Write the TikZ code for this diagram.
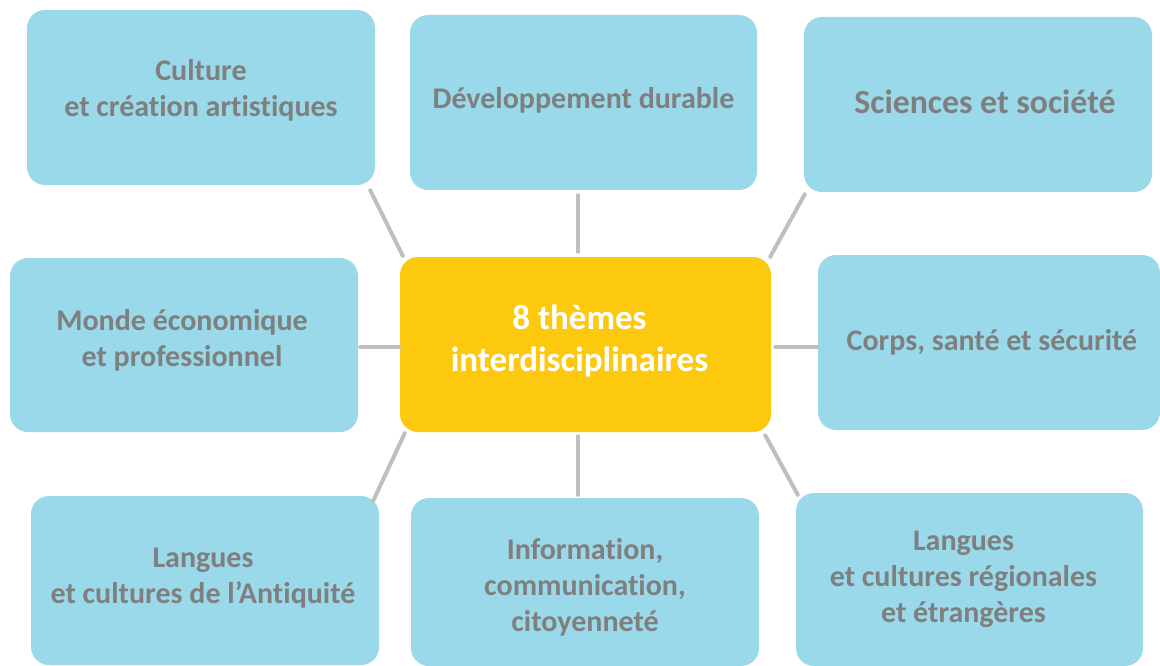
\documentclass[tikz,border=0pt]{standalone}
\usepackage{fontspec}
\setmainfont{Carlito}[Ligatures=NoCommon]
\definecolor{boxblue}{HTML}{99D9EA}
\definecolor{coreyellow}{HTML}{FDC90F}
\definecolor{txtgray}{HTML}{7F7F7F}
\definecolor{linegray}{HTML}{BFBFBF}
\begin{document}
\begin{tikzpicture}[x=1pt,y=-1pt,
  box/.style={fill=boxblue, draw=none, rounded corners=18pt, minimum width=348pt, minimum height=175pt, inner sep=0pt},
  core/.style={fill=coreyellow, draw=none, rounded corners=18pt, minimum width=371pt, minimum height=175pt, inner sep=0pt},
  txt/.style={text=txtgray, font=\bfseries\fontsize{30}{36}\selectfont, align=center, inner sep=0pt},
  bigtxt/.style={text=txtgray, font=\bfseries\fontsize{33.8}{40}\selectfont, align=center, inner sep=0pt},
  wtxt/.style={text=white, font=\bfseries\fontsize{35}{42}\selectfont, align=center, inner sep=0pt},
  conn/.style={draw=linegray, line width=4pt, line cap=round}]
\useasboundingbox (0,0) rectangle (1160,666);
\node[box] (cult) at (201,97.5) {};
\node[txt, yshift=7pt] at (cult.center) {Culture\\et création artistiques};
\node[box, minimum width=347pt] (dev) at (583.5,102.5) {};
\node[txt, yshift=2pt] at (dev.center) {Développement durable};
\node[box] (sci) at (978,104.5) {};
\node[bigtxt, yshift=3pt, xshift=7pt] at (sci.center) {Sciences et société};
\node[box, minimum height=174pt] (monde) at (184,345) {};
\node[txt, yshift=5pt, xshift=-2pt] at (monde.center) {Monde économique\\et professionnel};
\node[core] (core) at (585.5,344.5) {};
\node[wtxt, yshift=4pt, xshift=-6pt] at (core.center) {8 thèmes\\interdisciplinaires};
\node[box, minimum width=342pt] (corps) at (989,342.5) {};
\node[txt, xshift=3pt] at (corps.center) {Corps, santé et sécurité};
\node[box, minimum height=169pt] (antiq) at (205,580.5) {};
\node[txt, yshift=2pt, xshift=-2pt] at (antiq.center) {Langues\\et cultures de l’Antiquité};
\node[box, minimum height=168pt] (info) at (585,582) {};
\node[txt, yshift=-5pt] at (info.center) {Information,\\communication,\\citoyenneté};
\node[box, minimum width=347pt, minimum height=173pt] (lreg) at (969.5,579.5) {};
\node[txt, xshift=-6pt] at (lreg.center) {Langues\\et cultures régionales\\et étrangères};
% connectors
\draw[conn] ([shift={(-5,5)}]cult.south east) -- ([shift={(3,-1)}]core.north west);
\draw[conn] ([shift={(-5.5,5)}]dev.south) -- ([shift={(-7.5,-5)}]core.north);
\draw[conn] ([shift={(1,2)}]sci.south west) -- ([shift={(-1,0)}]core.north east);
\draw[conn] ([shift={(2,2)}]monde.east) -- ([shift={(0,2.5)}]core.west);
\draw[conn] ([shift={(4,2.5)}]core.east) -- ([shift={(0,4.5)}]corps.west);
\draw[conn] ([shift={(5,1)}]core.south west) -- ([shift={(-6,5)}]antiq.north east);
\draw[conn] ([shift={(-7.5,4)}]core.south) -- ([shift={(-7,-3)}]info.north);
\draw[conn] ([shift={(-6,3)}]core.south east) -- ([shift={(2,2)}]lreg.north west);
\end{tikzpicture}
\end{document}
